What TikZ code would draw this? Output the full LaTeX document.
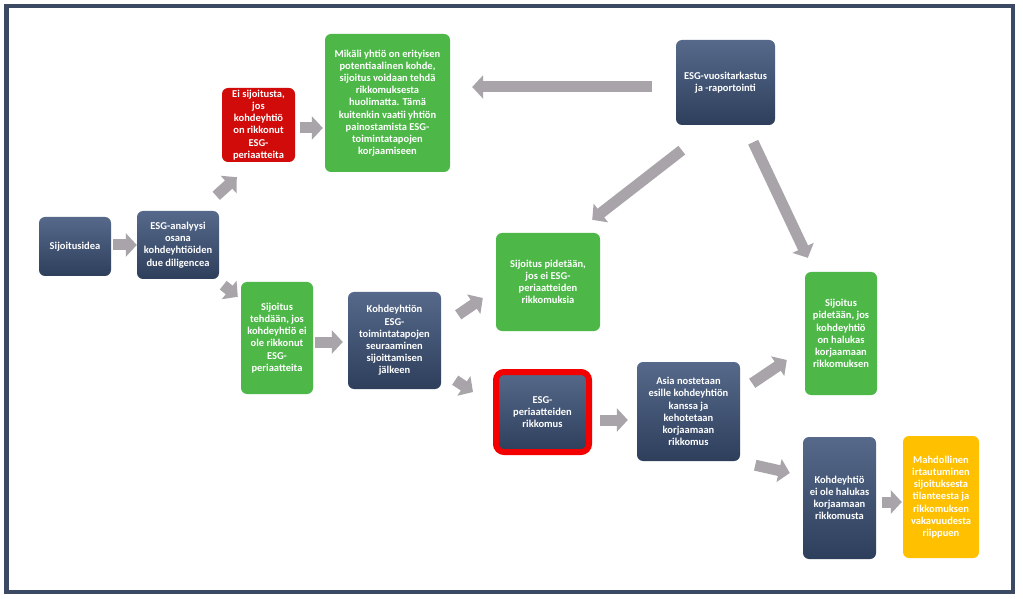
\documentclass[tikz,border=0pt]{standalone}
\usepackage{fontspec}
\setmainfont{Carlito}
\usepackage{tikz}
\usetikzlibrary{arrows.meta,calc}
\definecolor{navytop}{HTML}{56698A}
\definecolor{navybot}{HTML}{2E3F5C}
\definecolor{leaf}{HTML}{4DB848}
\definecolor{stopred}{HTML}{D10A0A}
\definecolor{alertred}{HTML}{F40000}
\definecolor{amber}{HTML}{FFC000}
\definecolor{arrowgrey}{HTML}{A8A4AA}
\definecolor{framecol}{HTML}{3B4A62}

\begin{document}
\begin{tikzpicture}[x=1pt,y=1pt,
  every node/.style={font=\fontsize{10.5}{12.2}\selectfont\bfseries,align=center,text=white,inner sep=0pt,rounded corners=6pt},
  navybox/.style={top color=navytop,bottom color=navybot},
  greenbox/.style={fill=leaf},
  redbox/.style={fill=stopred},
  amberbox/.style={fill=amber},
  fatarrow/.style={arrowgrey,line width=11pt,-{Triangle[length=11pt,width=23pt]}}]
\fill[white] (0,0) rectangle (1023,598);
\useasboundingbox (0,0) rectangle (1023,598);
\draw[framecol,line width=4.5pt] (6.5,6) rectangle (1013,592);
\node[navybox,minimum width=72pt,minimum height=59pt] (idea) at (75,351.5) {Sijoitusidea};
\node[navybox,minimum width=82pt,minimum height=68pt] (analysis) at (178,353) {ESG-analyysi\\osana\\kohdeyhtiöiden\\due diligencea};
\node[redbox,minimum width=73pt,minimum height=74pt] (noinvest) at (258.5,473) {Ei sijoitusta,\\jos\\kohdeyhtiö\\on rikkonut\\ESG-\\periaatteita};
\node[greenbox,minimum width=125pt,minimum height=138pt] (potential) at (387.5,495) {Mikäli yhtiö on erityisen\\potentiaalinen kohde,\\sijoitus voidaan tehdä\\rikkomuksesta\\huolimatta. Tämä\\kuitenkin vaatii yhtiön\\painostamista ESG-\\toimintatapojen\\korjaamiseen};
\node[navybox,minimum width=99pt,minimum height=85pt] (review) at (725.5,515.5) {ESG-vuositarkastus\\ja -raportointi};
\node[greenbox,minimum width=104pt,minimum height=98pt] (kept) at (548,316) {Sijoitus pidetään,\\jos ei ESG-\\periaatteiden\\rikkomuksia};
\node[greenbox,minimum width=72pt,minimum height=112pt] (invest) at (277,260) {Sijoitus\\tehdään, jos\\kohdeyhtiö ei\\ole rikkonut\\ESG-\\periaatteita};
\node[navybox,minimum width=93pt,minimum height=97pt] (monitor) at (394.5,257.5) {Kohdeyhtiön\\ESG-\\toimintatapojen\\seuraaminen\\sijoittamisen\\jälkeen};
\node[navybox,draw=alertred,line width=6pt,rounded corners=8pt,minimum width=93pt,minimum height=80pt] (breach) at (542.5,186) {ESG-\\periaatteiden\\rikkomus};
\node[navybox,minimum width=103pt,minimum height=99pt] (raise) at (688.5,186.5) {Asia nostetaan\\esille kohdeyhtiön\\kanssa ja\\kehotetaan\\korjaamaan\\rikkomus};
\node[greenbox,minimum width=72pt,minimum height=123pt] (willing) at (841,264.5) {Sijoitus\\pidetään, jos\\kohdeyhtiö\\on halukas\\korjaamaan\\rikkomuksen};
\node[navybox,minimum width=73pt,minimum height=122pt] (unwilling) at (839.5,100) {Kohdeyhtiö\\ei ole halukas\\korjaamaan\\rikkomusta};
\node[amberbox,minimum width=76pt,minimum height=122pt] (exit) at (941,101) {Mahdollinen\\irtautuminen\\sijoituksesta\\tilanteesta ja\\rikkomuksen\\vakavuudesta\\riippuen};
\draw[fatarrow] ($(idea.east)+(2,1.5)$) -- (analysis.west);
\draw[fatarrow] ($(analysis.north east)+(-3,15)$) -- ($(noinvest.south west)+(15,-15)$);
\draw[fatarrow] ($(analysis.south east)+(4,-6)$) -- ($(invest.north west)+(-3,-15)$);
\draw[fatarrow] ($(noinvest.east)+(5,-3)$) -- ($(potential.west)+(-2,-25)$);
\draw[fatarrow] ($(review.west)+(-24,-4.5)$) -- ($(potential.east)+(22,16)$);
\draw[fatarrow] ($(review.south west)+(6,-25)$) -- ($(kept.north east)+(-8,13)$);
\draw[fatarrow] ($(review.south east)+(-22,-17)$) -- ($(willing.north west)+(3,14)$);
\draw[fatarrow] ($(invest.east)+(2,-4)$) -- ($(monitor.west)+(-5,-1.5)$);
\draw[fatarrow] ($(monitor.north east)+(17,-23)$) -- ($(kept.west)+(-13,-16)$);
\draw[fatarrow] ($(monitor.south east)+(14,9)$) -- ($(breach.west)+(-20,20)$);
\draw[fatarrow] ($(breach.east)+(8,-8)$) -- ($(raise.west)+(-9,-8.5)$);
\draw[fatarrow] ($(raise.north east)+(12,-21.5)$) -- ($(willing.west)+(-18,-26.5)$);
\draw[fatarrow] ($(raise.south east)+(15,-4)$) -- ($(unwilling.west)+(-13,25)$);
\draw[fatarrow] ($(unwilling.east)+(6,-4)$) -- ($(exit.west)+(-1,-5)$);
\end{tikzpicture}
\end{document}
